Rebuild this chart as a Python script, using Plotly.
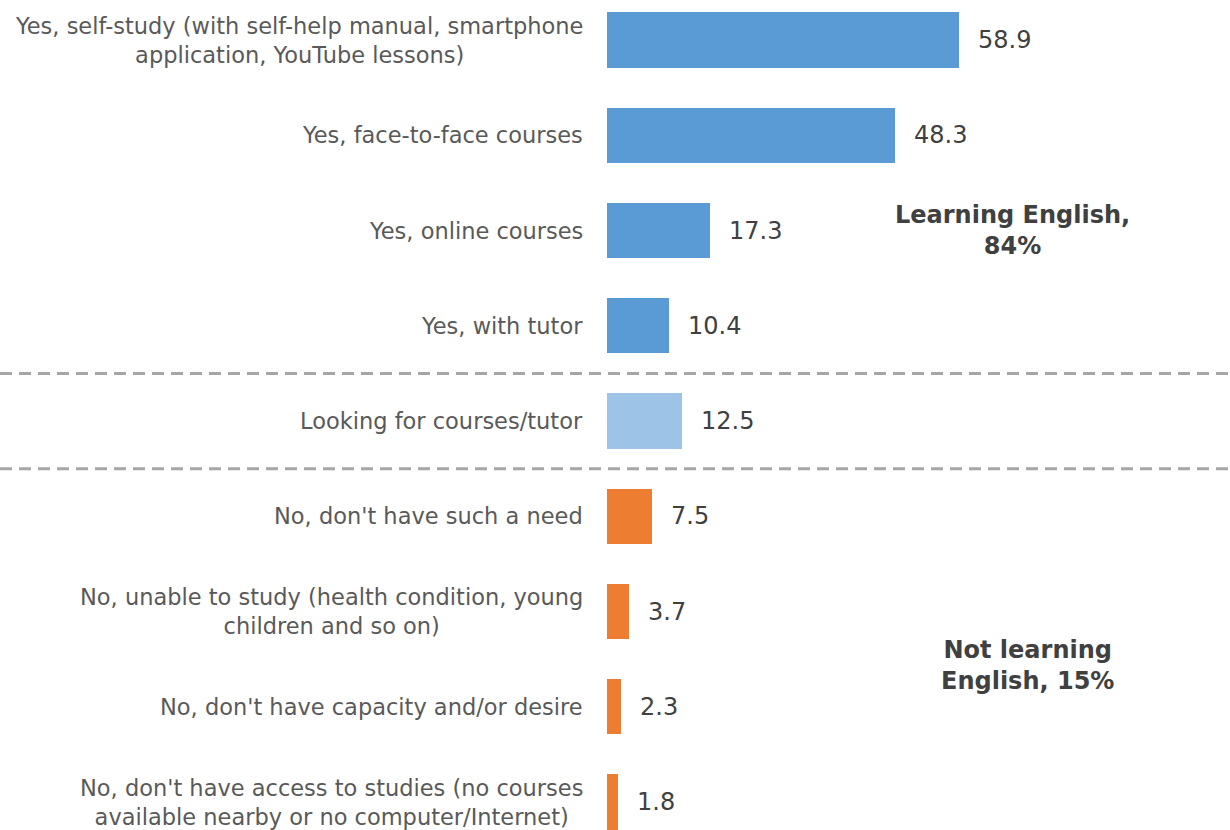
import plotly.graph_objects as go

# Survey answers, top to bottom
categories = [
    "Yes, self-study (with self-help manual, smartphone<br>application, YouTube lessons)",
    "Yes, face-to-face courses",
    "Yes, online courses",
    "Yes, with tutor",
    "Looking for courses/tutor",
    "No, don't have such a need",
    "No, unable to study (health condition, young<br>children and so on)",
    "No, don't have capacity and/or desire",
    "No, don't have access to studies (no courses<br>available nearby or no computer/Internet)",
]
values = [58.9, 48.3, 17.3, 10.4, 12.5, 7.5, 3.7, 2.3, 1.8]
groups = ["learning"] * 4 + ["looking"] + ["not"] * 4

group_colors = {"learning": "#5B9BD5", "looking": "#9DC3E6", "not": "#ED7D31"}
colors = [group_colors[g] for g in groups]

FONT = "DejaVu Sans"
LABEL_COLOR = "#595959"
VALUE_COLOR = "#404040"

ypos = list(range(len(categories)))

fig = go.Figure()
fig.add_trace(go.Bar(
    x=values,
    y=ypos,
    orientation="h",
    marker=dict(color=colors, line=dict(width=0)),
    width=0.58,
    hoverinfo="skip",
))

W, H = 1230, 830
ML = 607

annotations = []
# category labels, right-aligned block with centred lines
for i, cat in enumerate(categories):
    annotations.append(dict(
        x=0, xref="paper", xanchor="right", xshift=-22,
        y=i, yref="y", yanchor="middle",
        text=cat, showarrow=False, align="center",
        font=dict(family=FONT, size=22.5, color=LABEL_COLOR),
    ))
# value labels
for i, v in enumerate(values):
    annotations.append(dict(
        x=v, xref="x", xanchor="left", xshift=17,
        y=i, yref="y", yanchor="middle",
        text=f"{v:.1f}", showarrow=False,
        font=dict(family=FONT, size=24, color=VALUE_COLOR),
    ))
# group captions (page x-position converted to domain fraction)
captions = [
    ("<b>Learning English,<br>84%</b>", 1012, 2.0),
    ("<b>Not learning<br>English, 15%</b>", 1027, 6.57),
]
for text, px, yc in captions:
    annotations.append(dict(
        x=(px - ML) / (W - ML), xref="x domain", xanchor="center",
        y=yc, yref="y", yanchor="middle",
        text=text, showarrow=False, align="center",
        font=dict(family=FONT, size=24, color="#404040"),
    ))

shapes = []
for yline in (3.5, 4.5):
    shapes.append(dict(
        type="line", xref="paper", yref="y",
        x0=-ML / (W - ML), x1=1, y0=yline, y1=yline,
        line=dict(color="#A6A6A6", width=3, dash="12px,7px"),
    ))

px_per_unit = 5.97
fig.update_layout(
    width=W, height=H,
    margin=dict(l=ML, r=0, t=0, b=0),
    paper_bgcolor="white", plot_bgcolor="white",
    showlegend=False,
    bargap=0,
    xaxis=dict(range=[0, (W - ML) / px_per_unit], visible=False, fixedrange=True),
    yaxis=dict(range=[8.294, -0.42], visible=False, fixedrange=True),
    annotations=annotations,
    shapes=shapes,
)

fig.write_html("out.html", config={"displayModeBar": False})
